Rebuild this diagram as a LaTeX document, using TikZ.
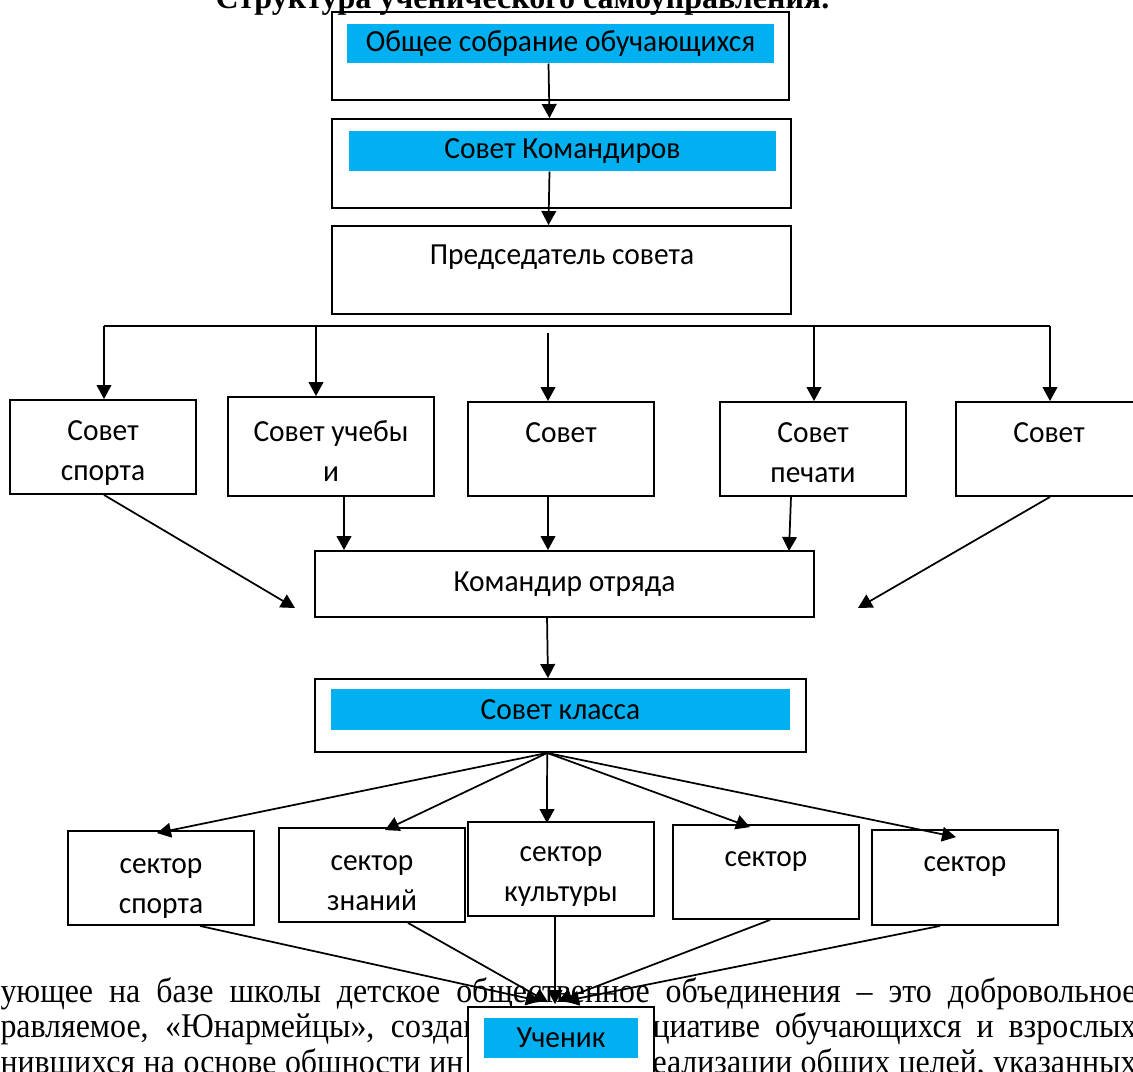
\documentclass[tikz,border=0pt]{standalone}
\usepackage{fontspec}
\setmainfont{Liberation Serif}
\newfontfamily\calibri[FakeStretch=0.96]{Carlito}
\newfontfamily\bodyfont[FakeStretch=0.92]{Liberation Serif}
\usetikzlibrary{arrows.meta}

\definecolor{barblue}{RGB}{0,176,240}

\tikzset{every picture/.style={line width=0.75pt}}
\tikzset{
	box/.style 2 args={draw, line width=1.4pt, fill=white, inner sep=0pt, minimum width=#1*0.75pt, minimum height=#2*0.75pt, font=\calibri\fontsize{23}{30}\selectfont},
	bar/.style 2 args={fill=barblue, inner sep=0pt, minimum width=#1*0.75pt, minimum height=#2*0.75pt, font=\calibri\fontsize{23}{30}\selectfont},
	lbl/.style={inner sep=0pt, align=center, font=\calibri\fontsize{23}{30}\selectfont},
	arr/.style={line width=1.3pt, -{Triangle[length=10.5pt,width=11pt]}},
	body/.style={inner sep=0pt, anchor=base west, font=\bodyfont\fontsize{26}{28}\selectfont},
	heading/.style={inner sep=0pt, anchor=base, font=\bfseries\fontsize{24}{26}\selectfont}
}

\begin{document}
\begin{tikzpicture}[x=0.75pt,y=0.75pt,yscale=-1]
	\useasboundingbox (0,0) rectangle (1133,1072);

	% Text lines under the chart
	\node[body] (ln1) at (0,1002) {\makebox[852pt][s]{ующее на базе школы детское общественное объединения – это добровольное}};
	\node[body] (ln2a) at (0,1037) {\makebox[360pt][s]{равляемое, «Юнармейцы», создан}};
	\node[body] (ln2b) at (652,1037) {\makebox[363pt][s]{циативе обучающихся и взрослых}};
	\node[body] (ln3a) at (0,1073) {\makebox[347.25pt][s]{нившихся на основе общности ин}};
	\node[body] (ln3b) at (652,1073) {\makebox[363pt][s]{еализации общих целей, указанных}};

	% Top chain
	\node[box={457}{88}] (obsh) at (560.5,56) {};
	\node[bar={427}{39}] (obshT) at (560.5,43.5) {Общее собрание обучающихся};
	\node[box={459}{89}] (sovkom) at (561.5,163.5) {};
	\node[bar={427}{40}] (sovkomT) at (562.5,151) {Совет Командиров};
	\node[box={459}{88}] (pred) at (561.5,270) {};
	\node[lbl] (predT) at (562,257) {Председатель совета};

	% Title
	\node[heading] (ttl) at (522.5,8) {Структура ученического самоуправления.};

	% Councils
	\node[box={186}{94}] (sport) at (103,447) {};
	\node[lbl] (sportT) at (103,453) {Совет\\спорта};
	\node[box={206}{99}] (ucheb) at (331,446.5) {};
	\node[lbl] (uchebT) at (331,451) {Совет учебы\\и};
	\node[box={186}{94}] (sovC) at (561,449) {};
	\node[lbl] (sovCT) at (561,433) {Совет};
	\node[box={186}{94}] (pech) at (813,449) {};
	\node[lbl] (pechT) at (813,452.5) {Совет\\печати};
	\node[box={186}{94}] (sovR) at (1049,449) {};
	\node[lbl] (sovRT) at (1049,433) {Совет};

	\node[box={499}{66}] (kom) at (564.5,584) {Командир отряда};

	\node[box={491}{73}] (klass) at (560.5,715.5) {};
	\node[bar={459}{41}] (klassT) at (560.5,709.5) {Совет класса};

	% Sectors
	\node[box={186}{94}] (sec1) at (161,878) {};
	\node[lbl] (sec1T) at (161,888.5) {сектор\\спорта};
	\node[box={186}{94}] (sec2) at (372,875) {};
	\node[lbl] (sec2T) at (372,883.5) {сектор\\знаний};
	\node[box={186}{94}] (sec3) at (561,869) {};
	\node[lbl] (sec3T) at (561,877) {сектор\\культуры};
	\node[box={186}{94}] (sec4) at (766,872) {};
	\node[lbl] (sec4T) at (766,862) {сектор};
	\node[box={186}{95}] (sec5) at (965,877.5) {};
	\node[lbl] (sec5T) at (965,867) {сектор};

	\node[box={186}{90}] (uch) at (561,1052) {};
	\node[bar={154}{40}] (uchT) at (561,1038) {Ученик};

	% Arrows down the chain
	\draw[arr] ([xshift=-9pt]obshT.south) -- ([xshift=-9pt]sovkom.north);
	\draw[arr] ([xshift=-9.75pt]sovkomT.south) -- ([xshift=-9.75pt]pred.north);

	% Bus to the councils
	\coordinate (bus-l) at (104,326);
	\coordinate (bus-2) at (316,326);
	\coordinate (bus-3) at (548,333);
	\coordinate (bus-4) at (814,326);
	\coordinate (bus-r) at (1050,326);
	\draw[line width=1.3pt] (bus-l) -- (bus-r);
	\draw[arr] (bus-l) -- (bus-l |- sport.north);
	\draw[arr] (bus-2) -- (bus-2 |- ucheb.north);
	\draw[arr] (bus-3) -- (bus-3 |- sovC.north);
	\draw[arr] (bus-4) -- (bus-4 |- pech.north);
	\draw[arr] (bus-r) -- (bus-r |- sovR.north);

	% Councils to the commander
	\coordinate (kom-l) at (295,608);
	\coordinate (kom-r) at (858,608);
	\coordinate (u1) at ([xshift=9.75pt]ucheb.south);
	\coordinate (c1) at ([xshift=-9.75pt]sovC.south);
	\coordinate (kom-p) at (789,551);
	\draw[arr] ([xshift=0.75pt]sport.south) -- (kom-l);
	\draw[arr] (u1) -- (u1 |- kom.north);
	\draw[arr] (c1) -- (c1 |- kom.north);
	\draw[arr] ([xshift=-16.5pt]pech.south) -- (kom-p);
	\draw[arr] ([xshift=0.75pt]sovR.south) -- (kom-r);
	\draw[arr] ([xshift=-13.1pt]kom.south) -- ([xshift=-9.4pt]klass.north);

	% Class council to the sectors
	\coordinate (fan) at ([xshift=-10pt]klass.south);
	\draw[arr] (fan) -- ([xshift=-3pt,yshift=2.25pt]sec1.north);
	\draw[arr] (fan) -- ([xshift=9.75pt,yshift=2.25pt]sec2.north);
	\draw[arr] (fan) -- ([xshift=-10.5pt,yshift=1.5pt]sec3.north);
	\draw[arr] (fan) -- ([xshift=-12pt,yshift=2.25pt]sec4.north);
	\draw[arr] (fan) -- ([xshift=-6.75pt,yshift=6pt]sec5.north);

	% Sectors to the pupil
	\draw[arr] ([xshift=29.25pt]sec1.south) -- ([xshift=-15.75pt,yshift=-3.75pt]uch.north);
	\draw[arr] ([xshift=27pt]sec2.south) -- ([xshift=-9.75pt,yshift=-3pt]uch.north);
	\draw[arr] ([xshift=-4.5pt]sec3.south) -- ([xshift=-4.5pt,yshift=-1.5pt]uch.north);
	\draw[arr] ([xshift=3pt]sec4.south) -- ([xshift=-2.25pt,yshift=-3.75pt]uch.north);
	\draw[arr] ([xshift=-18.75pt]sec5.south) -- ([xshift=3pt,yshift=-3.75pt]uch.north);
\end{tikzpicture}
\end{document}
